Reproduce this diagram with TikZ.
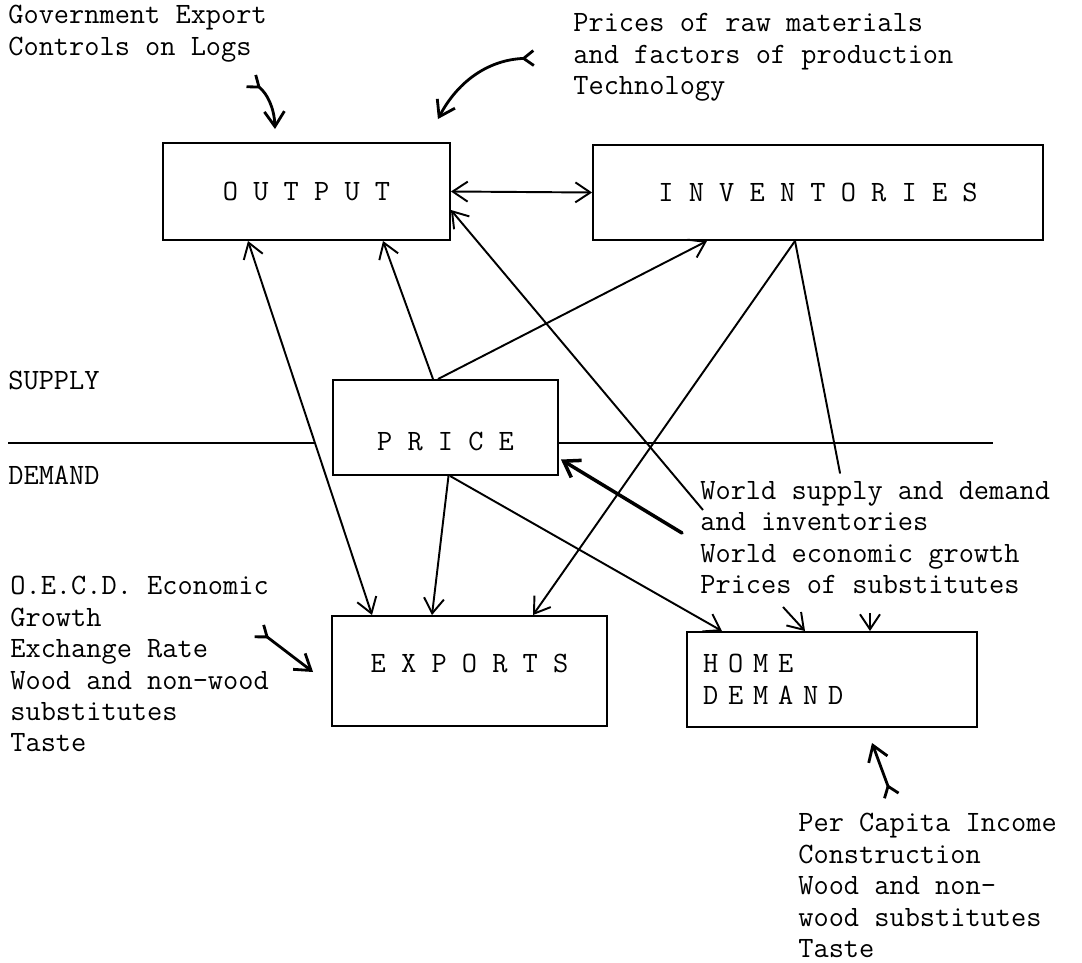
\documentclass[tikz,border=0pt]{standalone}
\usetikzlibrary{calc,arrows.meta}

\begin{document}
\begin{tikzpicture}[x=0.02cm,y=-0.02cm,
  font=\ttfamily\fontsize{16.8pt}{17.9pt}\selectfont,
  box/.style={draw, line width=1.1pt, inner sep=0pt},
  txt/.style={anchor=north west, inner sep=0pt, align=left},
  arr/.style={-{Straight Barb[length=3mm,width=4mm]}, line width=1.1pt},
  darr/.style={{Straight Barb[length=3mm,width=4mm]}-{Straight Barb[length=3mm,width=4mm]}, line width=1.1pt},
  farr/.style={{Straight Barb[reversed,length=2mm,width=3mm]}-{Straight Barb[length=3mm,width=4mm]}, line width=1.6pt}]
\useasboundingbox (0,0) rectangle (1082,963);
% boxes
\node[box, minimum width=5.74cm, minimum height=1.94cm] (output) at (306.5,191.5) {O U T P U T};
\node[box, minimum width=9cm, minimum height=1.9cm] (inv) at (818,192.5) {I N V E N T O R I E S};
\node[box, minimum width=4.5cm, minimum height=1.9cm, text height=0.94cm, text depth=0pt] (price) at (445.5,427.5) {P R I C E};
\node[box, minimum width=5.5cm, minimum height=2.2cm, text depth=0.31cm] (exports) at (469.5,671) {E X P O R T S};
\node[box, minimum width=5.8cm, minimum height=1.9cm, inner xsep=0.32cm, text width=5.16cm, align=left] (home) at (832,679.5) {H O M E\\D E M A N D};
% texts
\node[txt] (gov) at (8,5) {Government Export\\Controls on Logs};
\node[txt] (rawmat) at (573,13) {Prices of raw materials\\and factors of production\\Technology};
\node[txt] (supply) at (8,371) {SUPPLY};
\node[txt] (demand) at (8,466) {DEMAND};
\node[txt] (world) at (700,481) {World supply and demand\\and inventories\\World economic growth\\Prices of substitutes};
\node[txt] (oecd) at (10,576) {O.E.C.D. Economic\\Growth\\Exchange Rate\\Wood and non-wood\\substitutes\\Taste};
\node[txt] (percap) at (798,813) {Per Capita Income\\Construction\\Wood and non-\\wood substitutes\\Taste};
% loose ends
\coordinate (gt) at (250,80);
\coordinate (rt) at (535,58);
\coordinate (w1) at (703,510);
\coordinate (w2) at (682,533);
\coordinate (w3) at (840,473);
\coordinate (et) at (258,630);
\coordinate (h1) at (783,607);
\coordinate (h2) at (870,613);
\coordinate (pt) at (892,797);
% supply / demand line
\draw[line width=1.1pt] (8,443) -- (315,443) (558,443) -- (993,443);
% connectors
\draw[farr] (gt) to[bend left=25] ($(output.north)+(-31.5,-13)$);
\draw[farr] (rt) to[bend right=30] ($(output.north east)+(-13,-23)$);
\draw[darr] (output.east) -- (inv.west);
\draw[darr] ($(output.south)+(-58.5,0)$) -- ($(exports.north)+(-97.5,0)$);
\draw[arr] ($(price.north)+(-12.5,0)$) -- ($(output.south)+(76.5,0)$);
\draw[arr] ($(price.north)+(-7.5,0)$) -- ($(inv.south)+(-111,0)$);
\draw[arr] (w1) -- ($(output.east)+(0,18.5)$);
\draw[arr, line width=2pt, line cap=round] (w2) -- ($(price.east)+(2,32)$);
\draw[arr] ($(inv.south)+(-23,0)$) -- ($(exports.north)+(63.5,0)$);
\draw[line width=1.1pt, line cap=round] ($(inv.south)+(-23,0)$) -- (w3);
\draw[arr] ($(price.south)+(3,0)$) -- ($(exports.north)+(-37.5,0)$);
\draw[arr] ($(price.south)+(4.5,0)$) -- ($(home.north)+(-110,0)$);
\draw[farr] (et) -- ($(exports.west)+(-18,1)$);
\draw[arr] (h1) -- ($(home.north)+(-27,0)$);
\draw[arr] (h2) -- ($(home.north)+(38,0)$);
\draw[farr] (pt) -- ($(home.south)+(40,15)$);
\end{tikzpicture}
\end{document}
